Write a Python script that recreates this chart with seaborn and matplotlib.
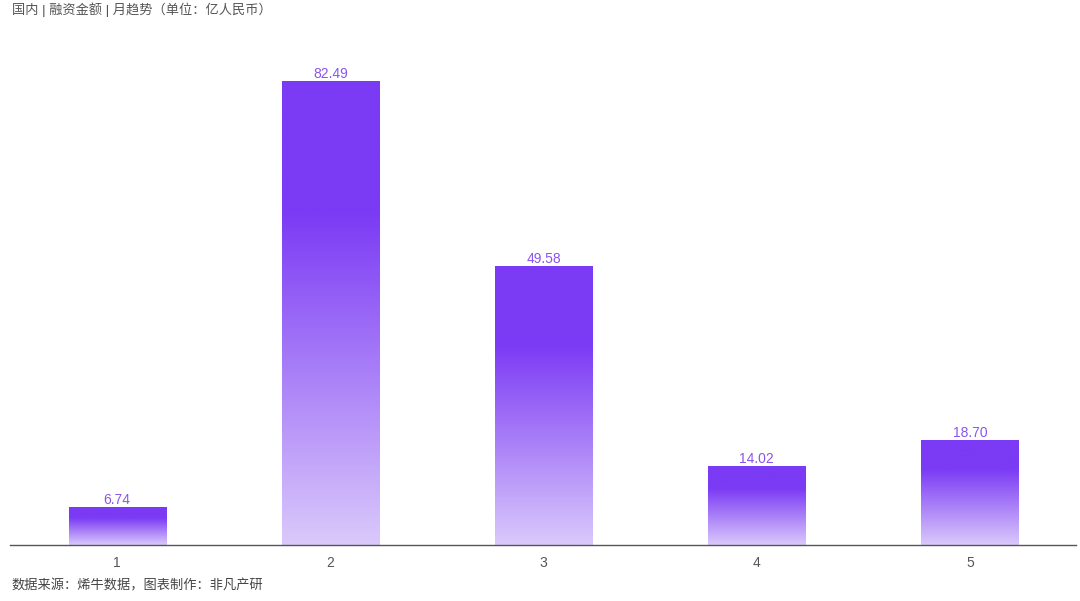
import numpy as np
import pandas as pd
import matplotlib
matplotlib.use('Agg')
import matplotlib.pyplot as plt
from matplotlib.colors import LinearSegmentedColormap
import seaborn as sns

# data
months = ['1', '2', '3', '4', '5']
amounts = [6.74, 82.49, 49.58, 14.02, 18.70]
title = '国内 | 融资金额 | 月趋势（单位：亿人民币）'
source = '数据来源：烯牛数据，图表制作：非凡产研'

sns.set_theme(style='white')
plt.rcParams['font.family'] = ['Liberation Sans', 'Noto Sans CJK SC', 'DejaVu Sans']

df = pd.DataFrame({'month': months, 'amount': amounts})

fig = plt.figure(figsize=(10.8, 6.01), dpi=100)
ax = fig.add_axes([0.0097, 0.0932, 0.987, 0.842])

sns.barplot(data=df, x='month', y='amount', color='#7c3aed', width=0.455, ax=ax)

# gradient fill: solid purple at top, fading to light lavender at bottom
cmap = LinearSegmentedColormap.from_list('grad', [(0, '#7b3af4'), (0.28, '#7b3af4'), (1, '#dac9fb')])
grad = np.linspace(0, 1, 256).reshape(-1, 1)
for p in ax.patches:
    x0, y0 = p.get_x(), p.get_y()
    w, h = p.get_width(), p.get_height()
    im = ax.imshow(grad, cmap=cmap, aspect='auto', extent=[x0, x0 + w, y0, y0 + h],
                   origin='upper', zorder=2)
    im.set_clip_path(p)
    p.set_facecolor('none')
    p.set_edgecolor('none')
ax.set_xlim(-0.5, 4.5)
ax.set_ylim(0, 90)

for c in ax.containers:
    ax.bar_label(c, labels=[f'{v:.2f}' for v in amounts], padding=0,
                 color='#8a55ee', fontsize=10)

sns.despine(ax=ax, left=True)
ax.spines['bottom'].set_color('#555555')
ax.spines['bottom'].set_linewidth(1)
ax.set_yticks([])
ax.set_xlabel('')
ax.set_ylabel('')
ax.tick_params(axis='x', colors='#555555', labelsize=10, length=0, pad=8)

fig.text(0.011, 0.996, title, ha='left', va='top', fontsize=9.5, color='#555555')
fig.text(0.011, 0.025, source, ha='left', va='center', fontsize=9.5, color='#444444')

fig.savefig('out.png', dpi=100)
